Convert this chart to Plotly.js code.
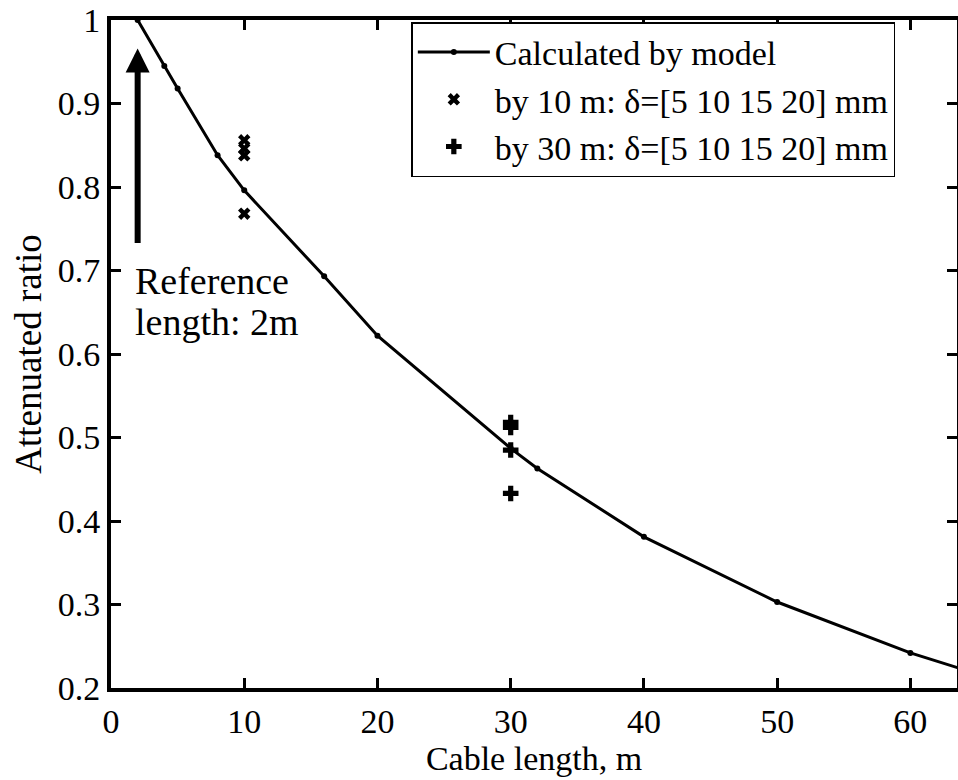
<!DOCTYPE html>
<html>
<head>
<meta charset="utf-8">
<script src="https://cdn.plot.ly/plotly-3.0.1.min.js"></script>
<style>html,body{margin:0;padding:0;background:#fff;}#chart{width:958px;height:780px;}</style>
</head>
<body>
<div id="chart"></div>
<script>
// Model curve
const modelX = [2, 4, 5, 8, 10, 16, 20, 30, 32, 40, 50, 60, 64];
const modelY = [1.0, 0.945, 0.918, 0.838, 0.796, 0.693, 0.622, 0.487, 0.463, 0.381, 0.303, 0.242, 0.222];
// Measured at 10 m
const m10X = [10, 10, 10, 10];
const m10Y = [0.856, 0.846, 0.838, 0.768];
// Measured at 30 m
const m30X = [30, 30, 30, 30];
const m30Y = [0.518, 0.512, 0.485, 0.433];
// Labels
const seriesNames = ["Calculated by model", "by 10 m: \u03b4=[5 10 15 20] mm", "by 30 m: \u03b4=[5 10 15 20] mm"];
const xTickVals = [0, 10, 20, 30, 40, 50, 60];
const xTickText = ["0", "10", "20", "30", "40", "50", "60"];
const yTickVals = [0.2, 0.3, 0.4, 0.5, 0.6, 0.7, 0.8, 0.9, 1.0];
const yTickText = ["0.2", "0.3", "0.4", "0.5", "0.6", "0.7", "0.8", "0.9", "1"];
const xTitle = "Cable length, m";
const yTitle = "Attenuated ratio";
const refLines = ["Reference", "length: 2m"];
const refLineY = [0.687, 0.638];
const refLabelX = 1.65;
const arrowX = 2, arrowTail = 0.731, arrowTip = 0.966;

const font = "Liberation Serif";

const traces = [
  {x: modelX, y: modelY, name: seriesNames[0], mode: "lines+markers",
   line: {color: "#000", width: 3}, marker: {color: "#000", size: 6}},
  {x: m10X, y: m10Y, name: seriesNames[1], mode: "markers",
   marker: {symbol: "x", color: "#000", size: 11, line: {width: 0}}},
  {x: m30X, y: m30Y, name: seriesNames[2], mode: "markers",
   marker: {symbol: "cross", color: "#000", size: 13, line: {width: 0}}}
];

const axisCommon = {
  showgrid: false, zeroline: false, showline: true, linecolor: "#000", linewidth: 4,
  mirror: "ticks", ticks: "inside", ticklen: 10, tickwidth: 3, tickcolor: "#000",
  tickfont: {family: font, size: 34, color: "#000"}
};

const annotations = [
  {x: arrowX, y: arrowTip, ax: arrowX, ay: arrowTail, xref: "x", yref: "y", axref: "x", ayref: "y",
   showarrow: true, arrowhead: 2, arrowsize: 0.8, arrowwidth: 6, arrowcolor: "#000", text: ""}
].concat(refLines.map((t, i) => ({
  x: refLabelX, y: refLineY[i], xref: "x", yref: "y", xanchor: "left", yanchor: "middle", align: "left",
  showarrow: false, text: t, font: {family: font, size: 38, color: "#000"}
})));

const layout = {
  width: 958, height: 780,
  margin: {l: 111, r: 1, t: 20, b: 92},
  paper_bgcolor: "#fff", plot_bgcolor: "#fff",
  font: {family: font, color: "#000"},
  showlegend: true,
  legend: {x: 0.355, y: 0.997, xanchor: "left", yanchor: "top", itemwidth: 72,
    bordercolor: "#000", borderwidth: 1.5, bgcolor: "#fff",
    font: {family: font, size: 34, color: "#000"}, tracegroupgap: 0},
  xaxis: Object.assign({}, axisCommon, {range: [0, 63.5], tickvals: xTickVals, ticktext: xTickText,
    title: {text: xTitle, font: {family: font, size: 34, color: "#000"}, standoff: 0}}),
  yaxis: Object.assign({}, axisCommon, {range: [0.2, 1.0], tickvals: yTickVals, ticktext: yTickText,
    title: {text: yTitle, font: {family: font, size: 37, color: "#000"}, standoff: 6}}),
  annotations: annotations
};

Plotly.newPlot("chart", traces, layout, {displayModeBar: false, staticPlot: true});
</script>
</body>
</html>
